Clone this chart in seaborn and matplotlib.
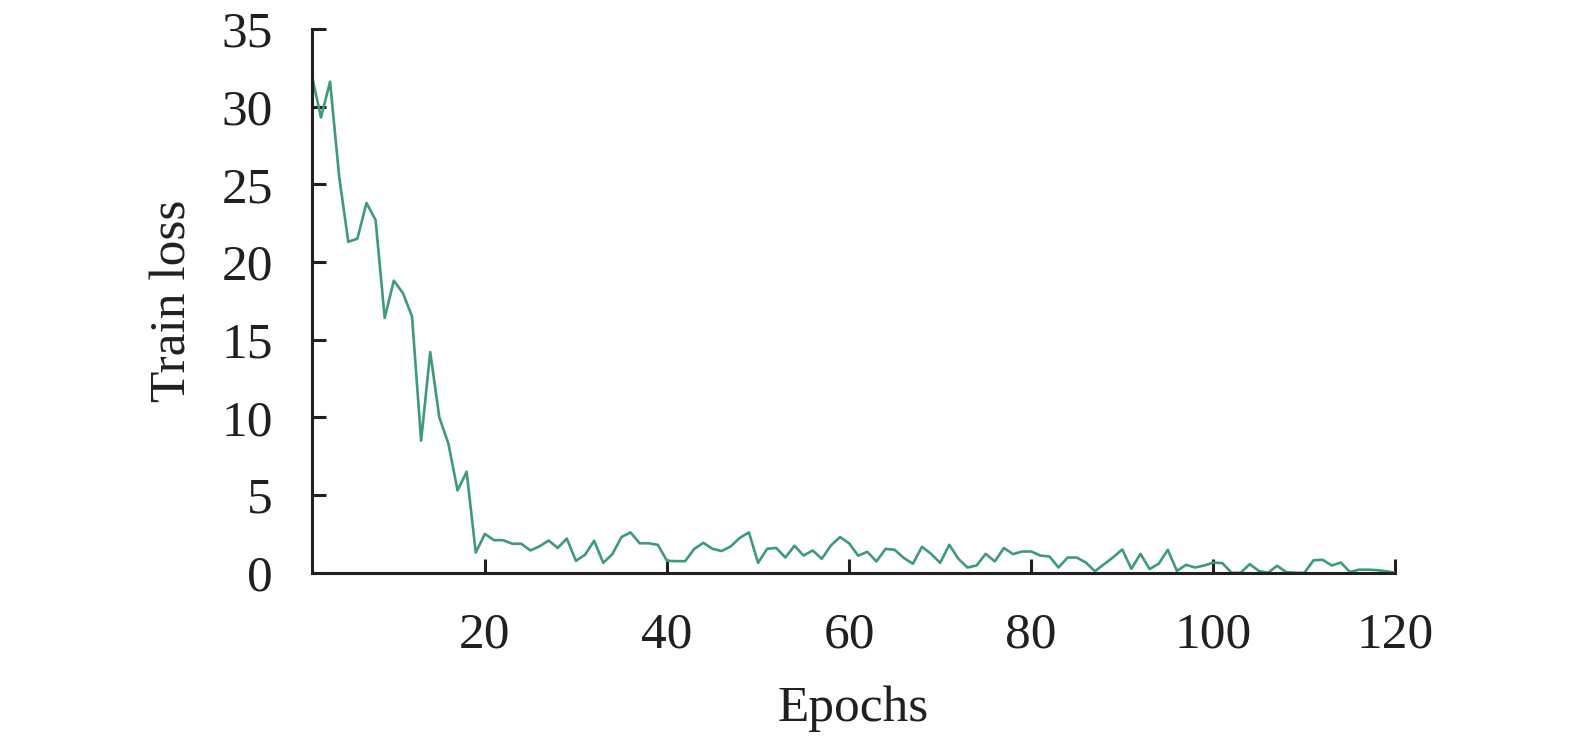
import numpy as np
import pandas as pd
import matplotlib
matplotlib.use('Agg')
import matplotlib.pyplot as plt
import seaborn as sns

# values, one per epoch
epochs = list(range(1, 121))
train_loss = [
    32.0, 29.3, 31.6, 25.5, 21.3, 21.5, 23.8, 22.7, 16.4, 18.8,
    18.0, 16.5, 8.5, 14.2, 10.0, 8.3, 5.3, 6.5, 1.3, 2.5,
    2.1, 2.1, 1.87, 1.87, 1.44, 1.7, 2.08, 1.6, 2.2, 0.77,
    1.16, 2.06, 0.64, 1.2, 2.3, 2.6, 1.9, 1.9, 1.8, 0.77,
    0.75, 0.75, 1.54, 1.93, 1.54, 1.4, 1.7, 2.25, 2.6, 0.64,
    1.54, 1.6, 0.98, 1.74, 1.11, 1.44, 0.9, 1.76, 2.3, 1.9,
    1.1, 1.35, 0.73, 1.54, 1.48, 0.96, 0.58, 1.67, 1.22, 0.64,
    1.8, 0.9, 0.34, 0.47, 1.22, 0.73, 1.6, 1.2, 1.37, 1.37,
    1.11, 1.05, 0.34, 0.98, 0.98, 0.66, 0.1, 0.55, 1.0, 1.5,
    0.26, 1.22, 0.24, 0.58, 1.48, 0.12, 0.51, 0.34, 0.47, 0.66,
    0.62, 0.0, 0.0, 0.56, 0.12, 0.0, 0.45, 0.05, 0.0, 0.0,
    0.8, 0.84, 0.47, 0.66, 0.05, 0.2, 0.2, 0.17, 0.1, 0.0,
]
x_ticks = [20, 40, 60, 80, 100, 120]
y_ticks = [0, 5, 10, 15, 20, 25, 30, 35]

df = pd.DataFrame({'Epochs': epochs, 'Train loss': train_loss})

sns.set_theme(style="ticks")
plt.rcParams['font.family'] = ['Liberation Serif', 'DejaVu Serif']

fig = plt.figure(figsize=(15.75, 7.41), dpi=100)
ax = fig.add_axes([0.198, 0.227, 0.688, 0.734])

sns.lineplot(data=df, x='Epochs', y='Train loss', color='#3f9a78',
             linewidth=1.9, ax=ax)

ax.set_xlim(1, 120)
ax.set_ylim(0, 35)
ax.set_xticks(x_ticks)
ax.set_yticks(y_ticks)

for side in ['top', 'right']:
    ax.spines[side].set_visible(False)
for side in ['left', 'bottom']:
    ax.spines[side].set_linewidth(2.2)
    ax.spines[side].set_color('#231f20')

ax.tick_params(axis='both', direction='in', length=10, width=2.2,
               colors='#231f20', labelsize=37, pad=28)
ax.set_xlabel('Epochs', fontsize=37, color='#231f20', labelpad=20)
ax.set_ylabel('Train loss', fontsize=37, color='#231f20', labelpad=18)

fig.savefig('out.png', dpi=100)
